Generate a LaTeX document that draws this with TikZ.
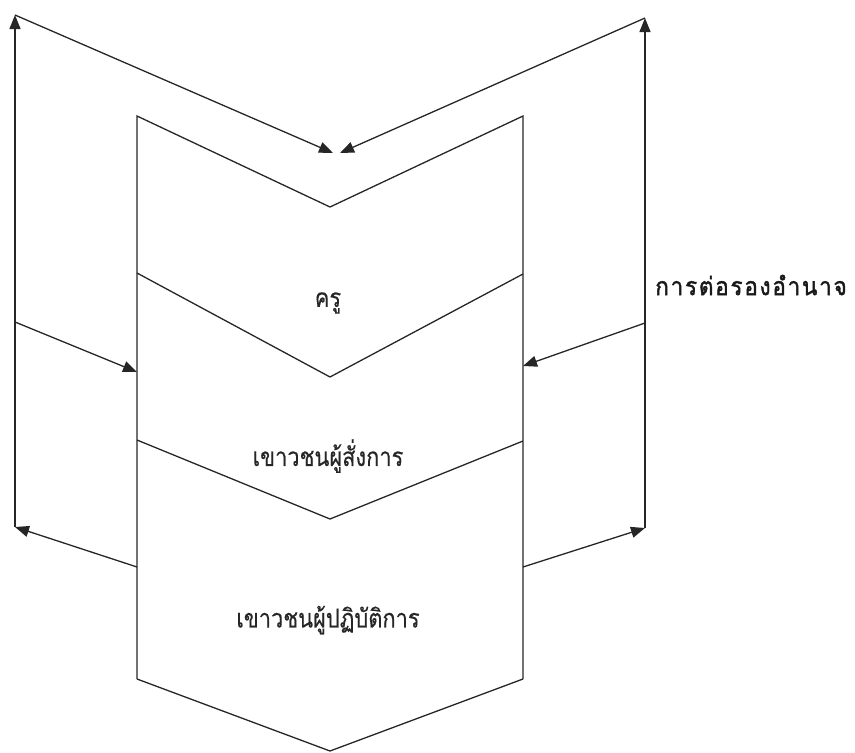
\documentclass[tikz,border=0pt]{standalone}
\usepackage{fontspec}
\newfontfamily\thaifont[Script=Thai,FakeStretch=0.84,FakeBold=0.3]{Loma}
\newfontfamily\thaiwide[Script=Thai,LetterSpace=7,FakeStretch=0.9,FakeBold=1.6]{Loma}
\usetikzlibrary{arrows.meta}
\begin{document}
\begin{tikzpicture}[x=1pt,y=-1pt,
  edge/.style={line width=1.3pt,line join=miter,draw=black!85},
  arr/.style={edge,-{Triangle[length=14pt,width=11pt]}},
  lbl/.style={font=\thaifont\fontsize{26}{29}\selectfont,inner sep=0pt,text=black!85},
  side/.style={font=\thaiwide\fontsize{25}{28}\selectfont,inner sep=0pt,text=black!90}]
\useasboundingbox (0,0) rectangle (855,753);
% shape corners
\coordinate (TL) at (137,116);
\coordinate (TA) at (330,207);
\coordinate (TR) at (523,116);
\coordinate (AL) at (137,273);
\coordinate (AA) at (330,377);
\coordinate (AR) at (523,274);
\coordinate (BL) at (137,440);
\coordinate (BA) at (330,519);
\coordinate (BR) at (523,441);
\coordinate (CL) at (137,679);
\coordinate (CA) at (330,751);
\coordinate (CR) at (523,679);
% outer frame points
\coordinate (LT) at (15,15);
\coordinate (LM) at (15,322);
\coordinate (LB) at (15,527);
\coordinate (RT) at (645,18);
\coordinate (RM) at (645,323);
\coordinate (RB) at (645,528);
\coordinate (T1) at (333,153);
\coordinate (T2) at (340,153);
\coordinate (ML) at (137,372);
\coordinate (MR) at (523,366);
\coordinate (SL) at (137,567);
\coordinate (SR) at (523,567);
% chevron outline
\draw[edge] (CL) -- (TL) -- (TA) -- (TR) -- (CR);
\draw[edge] (AL) -- (AA) -- (AR);
\draw[edge] (BL) -- (BA) -- (BR);
\draw[edge] (CL) -- (CA) -- (CR);
% left loop
\draw[arr] (LB) -- (LT);
\draw[arr] (LT) -- (T1);
\draw[edge] (LM) -- (LB);
\draw[arr] (LM) -- (ML);
\draw[arr] (SL) -- (LB);
% right loop
\draw[arr] (RB) -- (RT);
\draw[arr] (RT) -- (T2);
\draw[arr] (RM) -- (MR);
\draw[arr] (SR) -- (RB);
% labels
\node[lbl] (kru) at (328,303) {ครู};
\node[lbl] (boss) at (328,456) {เขาวชนผู้สั่งการ};
\node[lbl] (work) at (328,620) {เขาวชนผู้ปฏิบัติการ};
\node[side] (power) at (751,285) {การต่อรองอำนาจ};
\end{tikzpicture}
\end{document}
